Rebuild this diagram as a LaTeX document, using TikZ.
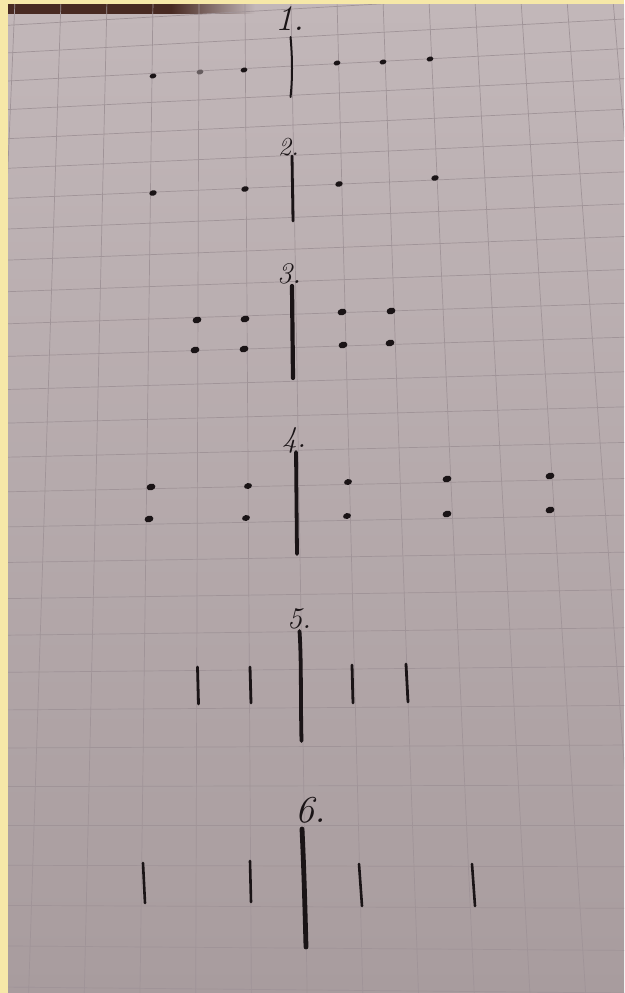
\documentclass[tikz,border=0pt]{standalone}
\usetikzlibrary{shapes.geometric}
\definecolor{frameY}{RGB}{246,232,168}
\definecolor{paperT}{RGB}{194,183,185}
\definecolor{paperB}{RGB}{168,156,158}
\definecolor{gridC}{RGB}{160,148,152}
\definecolor{ink}{RGB}{26,20,22}
\definecolor{brownS}{RGB}{72,42,34}
\pgfdeclarehorizontalshading{stripshade}{100bp}{color(0bp)=(brownS); color(25bp)=(brownS); color(58bp)=(brownS); color(75bp)=(paperT); color(100bp)=(paperT)}
\tikzset{
  gridline/.style={draw=gridC, line width=0.7},
  dot/.style={ellipse, fill=ink, draw=none, inner sep=0pt, minimum width=7.5, minimum height=5.5, rotate=14},
  smalldot/.style={dot, minimum width=7, minimum height=4.8},
  bigdot/.style={dot, minimum width=9, minimum height=6.6},
  lbl/.style={anchor=base west, inner sep=0pt, text=ink, font=\fontsize{30}{30}\selectfont\itshape},
  axis/.style={draw=ink, line cap=round, line width=3.8},
  tick/.style={draw=ink, line cap=round, line width=2.8}
}
\begin{document}
\begin{tikzpicture}[x=1pt,y=-1pt]
\useasboundingbox (0,0) rectangle (624,993);
% frame and paper
\fill[frameY] (0,0) rectangle (624,993);
\shade[top color=paperT, bottom color=paperB] (8,4) rectangle (624,993);
\shade[shading=stripshade] (8,4) rectangle (255,13);
% grid
\begin{scope}
\clip (8,4) rectangle (624,993);
\foreach \k in {-1,...,14} {
  \pgfmathsetmacro\xt{153+46*(\k-3)}
  \pgfmathsetmacro\xb{140+55.7*(\k-3)}
  \draw[gridline] (\xt,0) -- (\xb,993);
}
\foreach \j in {0,...,28} {
  \pgfmathsetmacro\yc{20+27.57*\j+0.25*\j*\j}
  \pgfmathsetmacro\sl{0.055*(24-\j)/23}
  \pgfmathsetmacro\yl{\yc+\sl*100}
  \pgfmathsetmacro\yr{\yc-\sl*524}
  \draw[gridline] (0,\yl) -- (624,\yr);
}
\end{scope}

% ---------- figure 1
\node[lbl, font=\fontsize{36}{36}\selectfont\itshape] (n1) at (275,30) {1.};
\coordinate (c1t) at (290.5,37);
\coordinate (c1b) at (290.5,97);
\draw[axis, line width=2] (c1t) .. controls (292.5,58) and (292.5,80) .. (c1b);
\node[smalldot] (a1) at (153,76) {};
\node[smalldot, fill=ink!55!paperT] (a2) at (200,72) {};
\node[smalldot] (a3) at (244,70) {};
\node[smalldot] (a4) at (337,63) {};
\node[smalldot] (a5) at (383,62) {};
\node[smalldot] (a6) at (430,59) {};

% ---------- figure 2
\node[lbl, font=\fontsize{26}{26}\selectfont\itshape] (n2) at (278,155) {2.};
\coordinate (c2t) at (292,156);
\coordinate (c2b) at (293,221);
\draw[axis, line width=2.8] (c2t) -- (c2b);
\node[dot] (b1) at (153,193) {};
\node[dot] (b2) at (245,189) {};
\node[dot] (b3) at (339,184) {};
\node[dot] (b4) at (435,178) {};

% ---------- figure 3
\node[lbl] (n3) at (277,283) {3.};
\coordinate (c3t) at (292,286);
\coordinate (c3b) at (293,378);
\draw[axis, line width=4.2] (c3t) -- (c3b);
\node[bigdot] (e1) at (197,320) {};
\node[bigdot] (e2) at (245,319) {};
\node[bigdot] (e3) at (195,350) {};
\node[bigdot] (e4) at (244,349) {};
\node[bigdot] (e5) at (342,312) {};
\node[bigdot] (e6) at (391,311) {};
\node[bigdot] (e7) at (343,345) {};
\node[bigdot] (e8) at (390,343) {};

% ---------- figure 4
\node[lbl] (n4) at (282,447) {4.};
\coordinate (c4t) at (296,452);
\coordinate (c4b) at (297,554);
\draw[axis, line width=3.8] (c4t) -- (c4b);
\node[bigdot] (f1) at (151,487) {};
\node[bigdot, minimum width=8, minimum height=5.8] (f2) at (248,486) {};
\node[bigdot] (f3) at (149,519) {};
\node[bigdot, minimum width=8, minimum height=5.8] (f4) at (246,518) {};
\node[bigdot, minimum width=8, minimum height=5.8] (f5) at (348,482) {};
\node[bigdot] (f6) at (447,479) {};
\node[bigdot, minimum width=8, minimum height=5.8] (f7) at (347,516) {};
\node[bigdot] (f8) at (447,514) {};
\node[bigdot] (f9) at (550,476) {};
\node[bigdot] (f10) at (550,510) {};

% ---------- figure 5
\node[lbl] (n5) at (287,628) {5.};
\coordinate (c5t) at (299.5,631);
\coordinate (c5b) at (301.5,741);
\draw[axis, line width=3.8] (c5t) .. controls (301.5,660) and (300.5,700) .. (c5b);
\coordinate (g1t) at (197.5,667); \coordinate (g1b) at (198.5,704);
\coordinate (g2t) at (250,667);   \coordinate (g2b) at (251,703);
\coordinate (g3t) at (352,665);   \coordinate (g3b) at (353,703);
\coordinate (g4t) at (406,664);   \coordinate (g4b) at (408,702);
\draw[tick] (g1t) -- (g1b);
\draw[tick] (g2t) -- (g2b);
\draw[tick] (g3t) -- (g3b);
\draw[tick] (g4t) -- (g4b);

% ---------- figure 6
\node[lbl, font=\fontsize{38}{38}\selectfont\itshape] (n6) at (295,822) {6.};
\coordinate (c6t) at (302,829);
\coordinate (c6b) at (306,947);
\draw[axis, line width=4.8] (c6t) .. controls (304,870) and (305,910) .. (c6b);
\coordinate (h1t) at (143,863); \coordinate (h1b) at (145,903);
\coordinate (h2t) at (250,861); \coordinate (h2b) at (251,902);
\coordinate (h3t) at (359,864); \coordinate (h3b) at (362,906);
\coordinate (h4t) at (472,864); \coordinate (h4b) at (475,906);
\draw[tick, line width=2.6] (h1t) -- (h1b);
\draw[tick, line width=2.6] (h2t) -- (h2b);
\draw[tick, line width=2.6] (h3t) -- (h3b);
\draw[tick, line width=2.6] (h4t) -- (h4b);
\end{tikzpicture}
\end{document}
